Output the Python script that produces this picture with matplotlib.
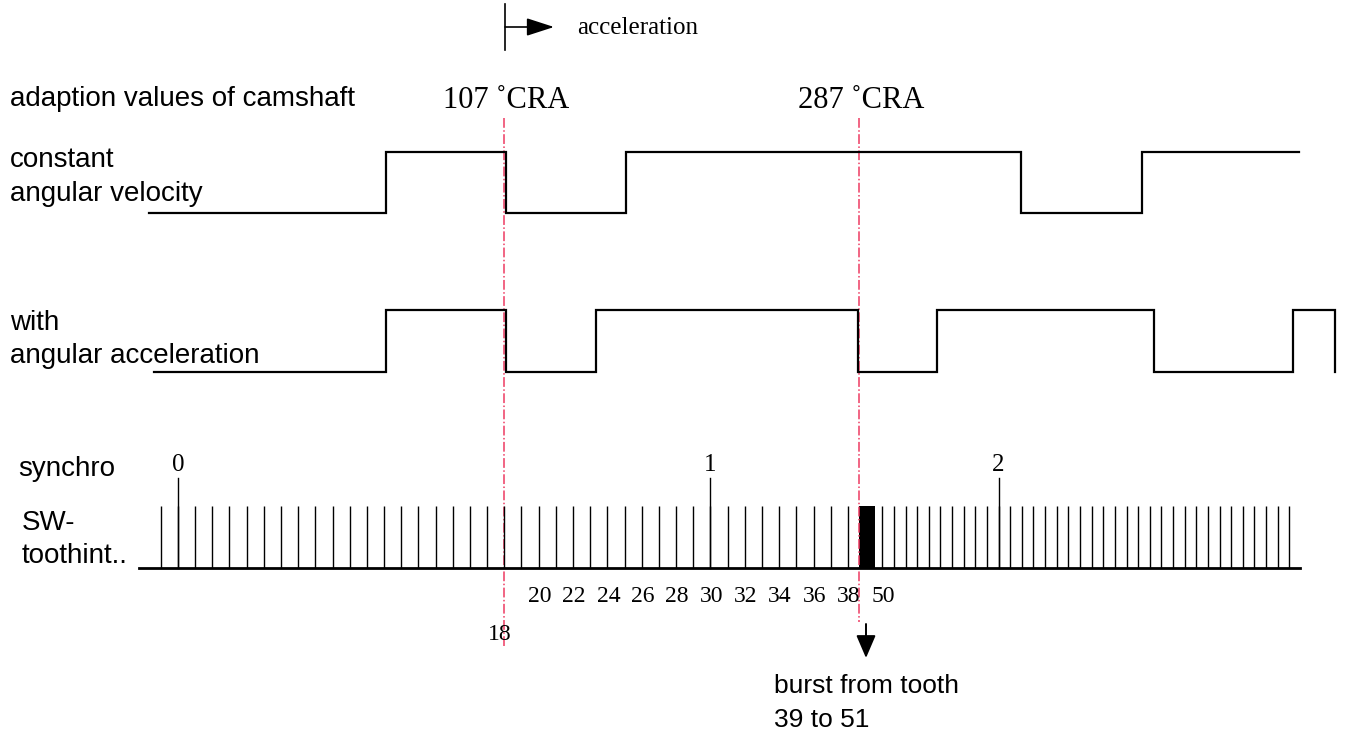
import numpy as np
import matplotlib.pyplot as plt

# horizontal positions are in drawing units (one unit = one pixel of the 1350 wide sheet)
SANS = 'Liberation Sans'
SERIF = 'Liberation Serif'

# camshaft signal, constant angular velocity: edge positions and level after each edge
const_edges = [149, 386, 506, 626, 1021, 1142, 1299]
const_levels = [0, 1, 0, 1, 0, 1, 1]

# camshaft signal, with angular acceleration
accel_edges = [154, 386, 506, 596, 858, 937, 1154, 1293, 1335]
accel_levels = [0, 1, 0, 1, 0, 1, 0, 1, 0]

# crank wheel teeth: slow part (before burst) and fast part (after burst)
slow_teeth = list(range(-2, 39))
slow_start, slow_pitch = 160.7, 17.18
fast_teeth = list(range(50, 86))
fast_start, fast_pitch = 882.3, 11.63
burst_span = (858.7, 874.7)

sync_teeth = [-1, 30, 60]
sync_labels = ['0', '1', '2']
tooth_labels = [20, 22, 24, 26, 28, 30, 32, 34, 36, 38, 50]

# camshaft adaption points
cra_pos = [504, 858.7]
cra_labels = ['107 ˚CRA', '287 ˚CRA']


def tooth_x(n):
    if n >= fast_teeth[0]:
        return fast_start + (n - fast_teeth[0]) * fast_pitch
    return slow_start + (n - slow_teeth[0]) * slow_pitch


def draw_wave(ax, edges, levels, y_low, y_high):
    ys = [y_high if v else y_low for v in levels]
    ax.plot(edges, ys, drawstyle='steps-post', color='black', lw=1.6,
            solid_joinstyle='miter')


def main():
    fig = plt.figure(figsize=(13.5, 7.43), dpi=100)
    fig.patch.set_facecolor('white')
    ax = fig.add_axes([0, 0, 1, 1])
    ax.set_xlim(0, 1350)
    ax.set_ylim(743, 0)
    ax.axis('off')

    # acceleration marker
    ax.plot([505, 505], [4, 50], color='black', lw=1.2)
    ax.annotate('', xy=(554, 27), xytext=(505, 27),
                arrowprops=dict(arrowstyle='-|>,head_length=1.7,head_width=0.55',
                                color='black', lw=1.2, shrinkA=0, shrinkB=0))
    ax.text(577, 28, 'acceleration', family=SERIF, fontsize=18, va='center')

    # left labels
    ax.text(10, 106, 'adaption values of camshaft', family=SANS, fontsize=20)
    ax.text(10, 167, 'constant', family=SANS, fontsize=20)
    ax.text(10, 201, 'angular velocity', family=SANS, fontsize=20)
    ax.text(10, 330, 'with', family=SANS, fontsize=20)
    ax.text(10, 363, 'angular acceleration', family=SANS, fontsize=20)
    ax.text(18, 476, 'synchro', family=SANS, fontsize=20)
    ax.text(22, 530, 'SW-', family=SANS, fontsize=20)
    ax.text(22, 563, 'toothint..', family=SANS, fontsize=20)

    # CRA labels and red dash-dot markers
    for x, lab in zip(cra_pos, cra_labels):
        ax.text(x - 61, 108, lab, family=SERIF, fontsize=22)
    ax.plot([cra_pos[0]] * 2, [118, 648], color='#ee3a62', lw=1.1, ls='-.')
    ax.plot([cra_pos[1]] * 2, [118, 622], color='#ee3a62', lw=1.1, ls='-.')

    # camshaft waveforms
    draw_wave(ax, const_edges, const_levels, 213.3, 152.3)
    draw_wave(ax, accel_edges, accel_levels, 371.7, 310.3)

    # crank teeth
    base_y, top_y, sync_top = 567.7, 505.7, 478
    ax.plot([139, 1300], [base_y, base_y], color='black', lw=2.0)
    xs = [tooth_x(n) for n in slow_teeth + fast_teeth]
    ax.vlines(xs, base_y, top_y, color='black', lw=1.0)
    ax.add_patch(plt.Rectangle((burst_span[0], top_y), burst_span[1] - burst_span[0],
                               base_y - top_y, color='black', lw=0))
    for n, lab in zip(sync_teeth, sync_labels):
        x = tooth_x(n)
        ax.plot([x, x], [sync_top, base_y], color='black', lw=1.0)
        ax.text(x, 465, lab, family=SERIF, fontsize=18, ha='center', va='center')

    for n in tooth_labels:
        ax.text(tooth_x(n) + 1, 596, str(n), family=SERIF, fontsize=17,
                ha='center', va='center')
    ax.text(500, 635, '18', family=SERIF, fontsize=17, ha='center', va='center')

    # burst annotation
    ax.annotate('', xy=(866, 658), xytext=(866, 624),
                arrowprops=dict(arrowstyle='-|>,head_length=1.4,head_width=0.6',
                                color='black', lw=1.4, shrinkA=0, shrinkB=0))
    ax.text(774, 693, 'burst from tooth', family=SANS, fontsize=19)
    ax.text(774, 727, '39 to 51', family=SANS, fontsize=19)

    fig.savefig('out.png', dpi=100, facecolor='white')


if __name__ == '__main__':
    main()
